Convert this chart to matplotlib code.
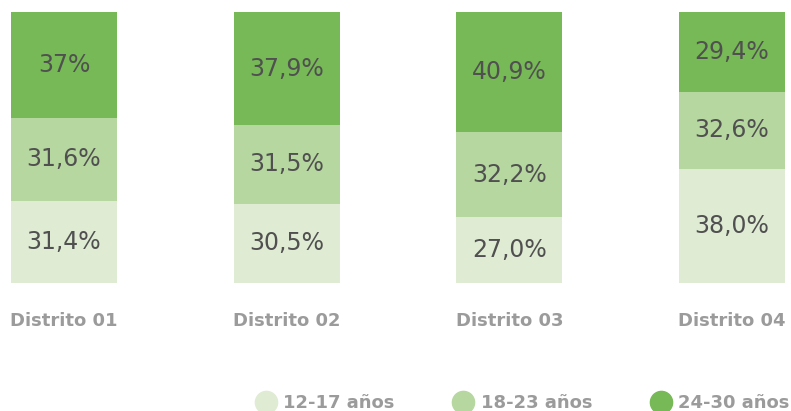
import numpy as np
import matplotlib.pyplot as plt
from matplotlib.lines import Line2D

# segment heights as drawn in the reference (percent of bar height)
districts = ['Distrito 01', 'Distrito 02', 'Distrito 03', 'Distrito 04']
age_groups = ['12-17 años', '18-23 años', '24-30 años']
g_12_17 = [30.4, 29.3, 24.2, 42.2]
g_18_23 = [30.6, 28.9, 31.4, 28.4]
g_24_30 = [39.0, 41.8, 44.4, 29.4]
# printed labels
labels_12_17 = ['31,4%', '30,5%', '27,0%', '38,0%']
labels_18_23 = ['31,6%', '31,5%', '32,2%', '32,6%']
labels_24_30 = ['37%', '37,9%', '40,9%', '29,4%']

colors = ['#dfecd3', '#b7d7a0', '#77b956']
txt_grey = '#505050'
lab_grey = '#9b9b9b'

fig = plt.figure(figsize=(7.91, 4.11), dpi=100)
ax = fig.add_axes([11 / 791, 128 / 411, 774 / 791, 271 / 411])

x = np.arange(len(districts))
w = 0.476
series = [g_12_17, g_18_23, g_24_30]
texts = [labels_12_17, labels_18_23, labels_24_30]
bottom = np.zeros(len(districts))
for vals, labs, c in zip(series, texts, colors):
    vals = np.array(vals)
    ax.bar(x, vals, w, bottom=bottom, color=c, linewidth=0)
    for xi, b, v, t in zip(x, bottom, vals, labs):
        ax.text(xi, b + v / 2, t, ha='center', va='center',
                fontsize=17, color=txt_grey)
    bottom += vals

ax.set_xlim(-w / 2, 3 + w / 2)
ax.set_ylim(0, 100)
ax.set_yticks([])
ax.set_xticks(x)
ax.set_xticklabels(districts, fontsize=13, fontweight='bold', color=lab_grey)
ax.tick_params(axis='x', length=0, pad=21)
for s in ax.spines.values():
    s.set_visible(False)

handles = [Line2D([], [], marker='o', ls='', ms=16, color=c) for c in colors]
fig.legend(handles, age_groups, loc='center right', bbox_to_anchor=(1.0, 8 / 411),
           ncol=3, frameon=False, borderpad=0, handlelength=1.2, handletextpad=0.35,
           columnspacing=3.2, borderaxespad=0.1,
           prop={'size': 13, 'weight': 'bold'}, labelcolor=lab_grey)

fig.savefig('out.png', dpi=100)
